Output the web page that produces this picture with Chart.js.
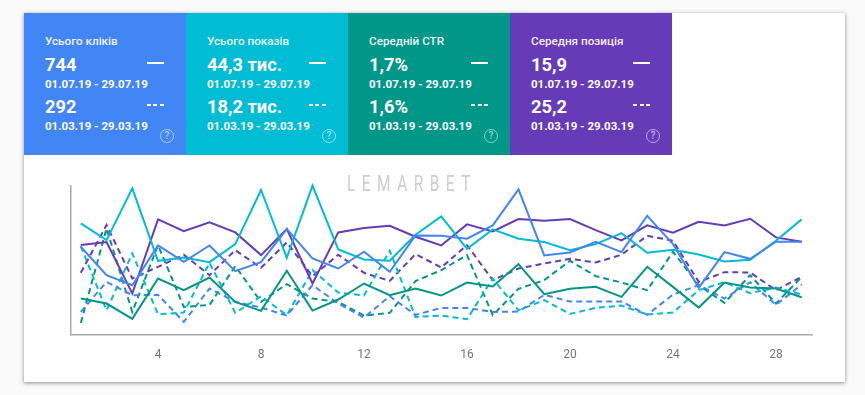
<!DOCTYPE html>
<html lang="uk">
<head>
<meta charset="utf-8">
<title>Search Console</title>
<script src="https://cdn.jsdelivr.net/npm/chart.js@4"></script>
<style>
  html, body { margin: 0; padding: 0; background: #fafafa; width: 865px; height: 395px; overflow: hidden; font-family: Roboto, sans-serif; }
  .card { position: absolute; left: 24px; top: 13px; width: 821px; height: 369px; background: #fff; box-shadow: 0 1px 4px rgba(0,0,0,.45); }
  .tile { position: absolute; top: 13px; width: 162px; height: 142px; color: #fff; }
  .tile div { position: absolute; left: 21px; white-space: nowrap; }
  .tile .title { top: 21px; font-size: 11.7px; font-weight: 500; opacity: .92; }
  .tile .val { font-size: 18.3px; font-weight: 700; line-height: 24px; }
  .tile .date { font-size: 11.5px; font-weight: 700; line-height: 16px; }
  .tile .solid { left: 123px; top: 49px; width: 17px; height: 1.5px; background: #fff; }
  .tile .dash { left: 123px; top: 91px; width: 17px; height: 1.5px; background: repeating-linear-gradient(90deg, #fff 0 4px, transparent 4px 6.5px); }
  .tile .help { left: 136px; top: 116px; width: 12px; height: 12px; border: 1.3px solid rgba(255,255,255,.55); border-radius: 50%; color: rgba(255,255,255,.6); font-size: 10px; font-weight: 500; line-height: 12px; text-align: center; }
  .mark { position: absolute; left: 347px; top: 171px; font-family: "Liberation Sans Narrow", Roboto, sans-serif; font-size: 22px; letter-spacing: 9.3px; color: #cdcdd0; white-space: nowrap; transform: scaleX(.7); transform-origin: left top; }
  .plot { position: absolute; left: 24px; top: 170px; width: 821px; height: 212px; }
</style>
</head>
<body>
<div class="card"></div>
<div id="tiles"></div>
<div class="plot"><canvas id="chart"></canvas></div>
<div class="mark">LEMARBET</div>
<script>
const days = [1,2,3,4,5,6,7,8,9,10,11,12,13,14,15,16,17,18,19,20,21,22,23,24,25,26,27,28,29];
const xTicks = [4, 8, 12, 16, 20, 24, 28];

// July, solid lines
const clicksJul = [263,178,148,267,218,267,190,217,316,228,198,248,188,297,296,287,327,435,237,246,278,247,356,271,140,247,227,278,278];
const viewsJul = [333,283,438,221,231,217,271,433,230,446,255,225,221,299,354,257,315,287,277,253,271,304,245,254,240,219,224,281,345];
const ctrJul = [108,93,47,168,133,171,98,71,191,72,105,153,118,138,117,156,144,211,121,137,143,113,203,143,81,156,141,138,112];
const posJul = [268,277,123,345,310,336,306,238,316,153,306,319,326,293,267,330,309,346,341,346,313,282,327,305,338,327,347,291,278];

// March, dashed lines
const clicksMar = [68,158,118,119,38,138,98,81,57,148,93,51,115,59,80,80,68,69,119,99,99,99,59,120,148,108,157,89,150];
const viewsMar = [265,73,243,61,66,215,65,115,58,193,126,117,251,53,57,46,168,73,103,62,80,87,60,66,133,157,124,141,120];
const ctrMar = [35,318,68,268,83,89,205,98,151,108,98,57,65,160,193,238,58,137,163,221,175,156,133,248,148,95,178,93,173];
const posMar = [185,328,168,203,239,178,253,200,276,175,239,185,161,241,201,268,163,198,213,227,216,239,296,281,158,187,186,133,173];

const tileTitles = ['Усього кліків', 'Усього показів', 'Середній CTR', 'Середня позиція'];
const tileJul = ['744', '44,3 тис.', '1,7%', '15,9'];
const tileMar = ['292', '18,2 тис.', '1,6%', '25,2'];
const rangeJul = '01.07.19 - 29.07.19';
const rangeMar = '01.03.19 - 29.03.19';
const colors = ['#4285f4', '#00bcd4', '#009688', '#673ab7'];

document.getElementById('tiles').innerHTML = tileTitles.map((t, i) => `
  <div class="tile" style="left:${24 + i * 162}px;background:${colors[i]}">
    <div class="title">${t}</div>
    <div class="val" style="top:40px">${tileJul[i]}</div>
    <div class="date" style="top:63px">${rangeJul}</div>
    <div class="solid"></div>
    <div class="val" style="top:82px">${tileMar[i]}</div>
    <div class="date" style="top:105px">${rangeMar}</div>
    <div class="dash"></div>
    <div class="help">?</div>
  </div>`).join('');

function line(label, values, color, dashed) {
  return {
    label: label,
    data: values.map((v, i) => ({ x: days[i], y: v })),
    borderColor: color,
    borderWidth: 2,
    borderDash: dashed ? [6, 4] : [],
    pointRadius: 0,
    tension: 0,
    clip: false
  };
}

new Chart(document.getElementById('chart').getContext('2d'), {
  type: 'line',
  data: {
    datasets: [
      line('Кліки 07', clicksJul, colors[0], false),
      line('Покази 07', viewsJul, colors[1], false),
      line('CTR 07', ctrJul, colors[2], false),
      line('Позиція 07', posJul, colors[3], false),
      line('Кліки 03', clicksMar, colors[0], true),
      line('Покази 03', viewsMar, colors[1], true),
      line('CTR 03', ctrMar, colors[2], true),
      line('Позиція 03', posMar, colors[3], true)
    ]
  },
  options: {
    responsive: true,
    maintainAspectRatio: false,
    animation: false,
    layout: { padding: { left: 38.5, right: 33, top: 16, bottom: 15 } },
    plugins: { legend: { display: false }, tooltip: { enabled: false } },
    scales: {
      x: {
        type: 'linear',
        min: 0.6,
        max: 29.4,
        afterBuildTicks: axis => { axis.ticks = xTicks.map(v => ({ value: v })); },
        grid: { display: false },
        border: { color: '#a8a8a8', width: 1.5 },
        ticks: { color: '#757575', font: { family: 'Roboto', size: 12 }, padding: 5, maxRotation: 0, autoSkip: false }
      },
      y: {
        min: 0,
        max: 445,
        grid: { display: false },
        border: { color: '#a8a8a8', width: 1.5 },
        ticks: { display: false }
      }
    }
  }
});
</script>
</body>
</html>
